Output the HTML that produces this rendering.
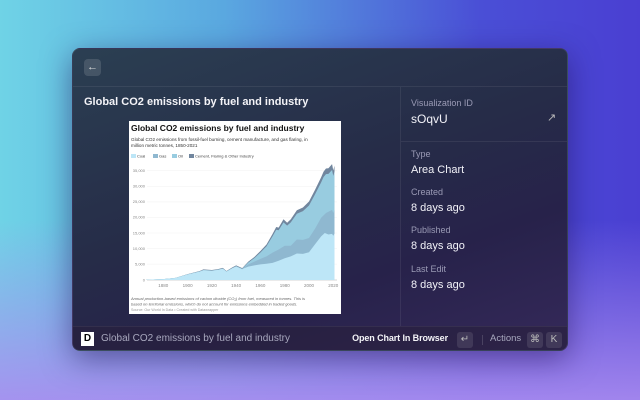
<!DOCTYPE html>
<html><head><meta charset="utf-8"><style>
*{margin:0;padding:0;box-sizing:border-box}
body{width:640px;height:400px;overflow:hidden;position:relative;font-family:"Liberation Sans",sans-serif;
background:linear-gradient(180deg,rgba(0,0,0,0) 55%,rgba(170,140,240,0.9) 100%),linear-gradient(90deg,#6fd3e6 0%,#5aa8e0 35%,#4a4fd6 75%,#4a3fd2 100%);}
.win{position:absolute;left:72px;top:48px;width:496px;height:303px;border-radius:8px;overflow:hidden;
background:linear-gradient(160deg,#2b3f52 0%,#262c48 45%,#27224a 70%,#35295a 100%);box-shadow:0 8px 30px rgba(30,10,80,.5);border:1px solid rgba(255,255,255,.08)}
.abs{position:absolute}
.lbl{position:absolute;left:338px;font-size:9px;color:#9a9ab5}
.val{position:absolute;left:338px;font-size:11px;color:#f2f2f8}
.key{position:absolute;top:283px;height:16px;border-radius:3px;background:rgba(255,255,255,.1);color:#bbb;font-size:10px;text-align:center;line-height:16px}
</style></head><body>
<div class="win">
 <div class="abs" style="left:11px;top:10px;width:17px;height:17px;border-radius:4px;background:rgba(255,255,255,.13);color:#ddd;font-size:11px;text-align:center;line-height:17px">←</div>
 <div class="abs" style="left:0;top:37px;width:496px;height:1px;background:rgba(255,255,255,.07)"></div>
 <div class="abs" style="left:327px;top:38px;width:1px;height:239px;background:rgba(255,255,255,.07)"></div>
 <div class="abs" style="left:11px;top:47px;font-size:11px;font-weight:bold;color:#f4f4f8">Global CO2 emissions by fuel and industry</div>
 <div class="lbl" style="top:49px">Visualization ID</div>
 <div class="val" style="top:63px;font-size:12px">sOqvU</div>
 <div class="abs" style="left:474px;top:62px;color:#bbb;font-size:11px">↗</div>
 <div class="abs" style="left:328px;top:92px;width:168px;height:1px;background:rgba(255,255,255,.07)"></div>
 <div class="lbl" style="top:100px">Type</div>
 <div class="val" style="top:115px">Area Chart</div>
 <div class="lbl" style="top:138px">Created</div>
 <div class="val" style="top:153px">8 days ago</div>
 <div class="lbl" style="top:176px">Published</div>
 <div class="val" style="top:191px">8 days ago</div>
 <div class="lbl" style="top:215px">Last Edit</div>
 <div class="val" style="top:230px">8 days ago</div>
 <div class="abs" style="left:0;top:277px;width:496px;height:26px;background:rgba(40,32,60,.6);border-top:1px solid rgba(255,255,255,.06)"></div>
 <div class="abs" style="left:8px;top:283px;width:13px;height:14px;background:#fff;color:#000;font-size:10px;font-weight:bold;text-align:center;line-height:14px">D</div>
 <div class="abs" style="left:28px;top:284px;font-size:10px;color:#a8a8be">Global CO2 emissions by fuel and industry</div>
 <div class="abs" style="right:119px;top:284px;font-size:9px;font-weight:bold;color:#f4f4f8;white-space:nowrap;letter-spacing:-0.1px">Open Chart In Browser</div>
 <div class="key" style="left:384px;width:16px">↵</div>
 <div class="abs" style="left:409px;top:286px;width:1px;height:10px;background:rgba(255,255,255,.15)"></div>
 <div class="abs" style="left:417px;top:284px;font-size:9.5px;color:#a8a8be">Actions</div>
 <div class="key" style="left:454px;width:16px">⌘</div>
 <div class="key" style="left:473px;width:16px">K</div>
</div>
<svg class="abs" style="left:129px;top:121px" width="212" height="193" font-family="Liberation Sans,sans-serif">
<rect width="212" height="193" fill="#fff"/>
<text x="2" y="10" font-size="8.5" font-weight="bold" fill="#111">Global CO2 emissions by fuel and industry</text>
<text x="2" y="20" font-size="4.6" fill="#333">Global CO2 emissions from fossil-fuel burning, cement manufacture, and gas flaring, in</text>
<text x="2" y="26" font-size="4.6" fill="#333">million metric tonnes, 1850-2021</text>
<g font-size="4" fill="#444">
<rect x="2" y="33" width="5" height="4" fill="#bde6f7"/><text x="8" y="36.5">Coal</text>
<rect x="24" y="33" width="5" height="4" fill="#8fb8d0"/><text x="30" y="36.5">Gas</text>
<rect x="43" y="33" width="5" height="4" fill="#98cce0"/><text x="49" y="36.5">Oil</text>
<rect x="60" y="33" width="5" height="4" fill="#71869e"/><text x="66" y="36.5">Cement, Flaring &amp; Other Industry</text>
</g>
<g stroke="#eee" stroke-width=".4">
<line x1="18" x2="208" y1="49.7" y2="49.7"/><line x1="18" x2="208" y1="65.3" y2="65.3"/><line x1="18" x2="208" y1="80.9" y2="80.9"/><line x1="18" x2="208" y1="96.4" y2="96.4"/><line x1="18" x2="208" y1="112" y2="112"/><line x1="18" x2="208" y1="127.6" y2="127.6"/><line x1="18" x2="208" y1="143.1" y2="143.1"/>
</g>
<line x1="18" x2="208" y1="159" y2="159" stroke="#999" stroke-width=".4"/>
<g font-size="4" fill="#888" text-anchor="end">
<text x="16" y="51">35,000</text><text x="16" y="66.6">30,000</text><text x="16" y="82.2">25,000</text><text x="16" y="97.7">20,000</text><text x="16" y="113.3">15,000</text><text x="16" y="128.9">10,000</text><text x="16" y="144.4">5,000</text><text x="16" y="160.3">0</text>
</g>
<g font-size="4.5" fill="#888" text-anchor="middle">
<text x="34.3" y="166">1880</text><text x="58.6" y="166">1900</text><text x="82.9" y="166">1920</text><text x="107.1" y="166">1940</text><text x="131.4" y="166">1960</text><text x="155.7" y="166">1980</text><text x="180" y="166">2000</text><text x="204.3" y="166">2020</text>
</g>
<g transform="translate(-2248,159) scale(1.214,-0.003114)">
<polygon fill="#71869e" points="1866,0 1866,100 1880,300 1890,700 1900,1900 1910,2900 1913,3400 1920,3200 1925,3500 1929,3900 1932,2900 1937,4100 1940,4700 1945,3800 1946,4200 1950,5900 1955,7400 1960,9300 1965,11400 1970,14800 1973,17000 1975,16800 1979,19500 1982,18400 1985,19500 1990,22400 1995,23300 2000,25200 2005,29000 2010,33000 2012,34800 2014,35800 2016,35900 2019,37200 2020,35200 2021,36700 2021,0"/>
<polygon fill="#98cce0" points="1866,0 1866,95 1880,285 1890,665 1900,1800 1910,2750 1913,3230 1920,3040 1925,3320 1929,3700 1932,2750 1937,3900 1940,4460 1945,3600 1946,4000 1950,5600 1955,7030 1960,8830 1965,10830 1970,14060 1973,16150 1975,15960 1979,18520 1982,17480 1985,18520 1990,21280 1995,22130 2000,23940 2005,27550 2010,31350 2012,33060 2014,34010 2016,34100 2019,35340 2020,33440 2021,34860 2021,0"/>
<polygon fill="#8fb8d0" points="1866,0 1866,93 1880,280 1890,650 1900,1760 1910,2690 1913,3150 1920,2970 1925,3250 1929,3620 1932,2690 1937,3800 1940,4350 1945,3500 1946,3900 1950,5000 1955,5900 1960,6800 1965,7600 1970,8800 1975,9800 1980,11000 1985,11000 1990,13000 1995,12900 2000,13500 2005,16500 2010,20000 2014,21500 2019,22500 2020,21500 2021,22500 2021,0"/>
<polygon fill="#bde6f7" points="1866,0 1866,90 1880,280 1890,650 1900,1760 1910,2690 1913,3150 1920,2970 1925,3250 1929,3620 1932,2690 1937,3800 1940,4350 1945,3450 1946,3700 1950,4300 1955,4700 1960,5000 1965,5200 1970,5500 1975,6200 1980,7000 1985,7600 1990,8500 1995,8400 2000,8900 2005,11500 2010,14000 2013,15100 2016,14600 2019,14800 2020,14200 2021,14900 2021,0"/>
</g>
<text x="2" y="179" font-size="4" font-style="italic" fill="#666">Annual production-based emissions of carbon dioxide (CO₂) from fuel, measured in tonnes. This is</text>
<text x="2" y="184.5" font-size="4" font-style="italic" fill="#666">based on territorial emissions, which do not account for emissions embedded in traded goods.</text>
<text x="2" y="190" font-size="3.6" fill="#999">Source: Our World In Data • Created with Datawrapper</text>
</svg>
</body></html>
